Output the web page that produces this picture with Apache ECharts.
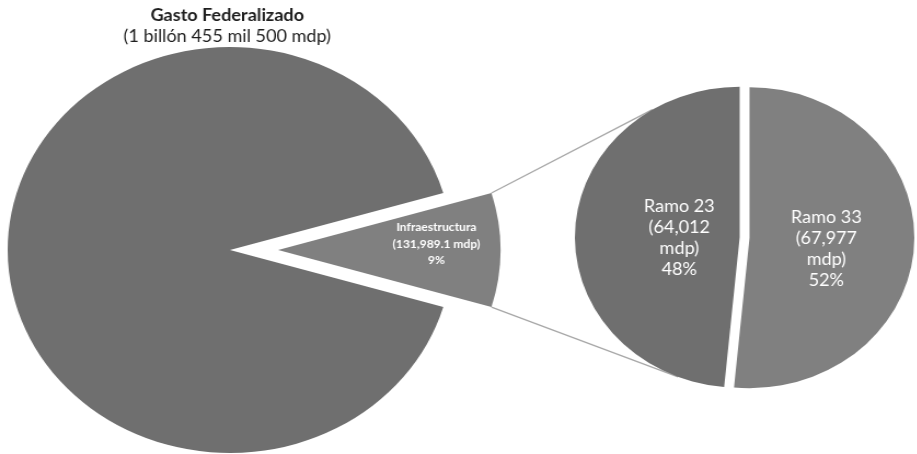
<!DOCTYPE html>
<html>
<head>
<meta charset="utf-8">
<script src="https://cdn.jsdelivr.net/npm/echarts@6/dist/echarts.min.js"></script>
<style>
  html, body { margin: 0; padding: 0; background: #ffffff; overflow: hidden; }
  #wrap { width: 917px; height: 454px; overflow: hidden; }
  /* the chart is laid out narrower and widened on screen */
  #chart { width: 838px; height: 454px; transform: scaleX(1.095); transform-origin: 0 0; }
</style>
</head>
<body>
<div id="wrap"><div id="chart"></div></div>
<script>
// ---- data ----
const titleText = 'Gasto Federalizado';
const subtitleText = '(1 billón 455 mil 500 mdp)';
const mainNames = ['Infraestructura', 'Resto del gasto federalizado'];
const mainValues = [131989.1, 1323510.9];
const subNames = ['Ramo 33', 'Ramo 23'];
const subValues = [67977, 64012];

// ---- layout ----
const FONT = 'Lato, "Open Sans", sans-serif';
const DARK = '#6f6f6f';
const LIGHT = '#808080';
const main = { cx: 210, cy: 250, r: 203, offset: 44 };
const sub = { cx: 680, cy: 237.5, r: 150.5, offset: 4.5 };
const connectorAngles = [122, 248]; // degrees on the secondary pie
const mainLabelShift = { dx: 40, dy: -6 };
const subLabelShift = [{ dx: -8, dy: 8 }, { dx: 23, dy: 5 }];

const mainTotal = mainValues.reduce((a, b) => a + b, 0);
const subTotal = subValues.reduce((a, b) => a + b, 0);
const mainShare = mainValues[0] / mainTotal;
const fmt = (v, d) => v.toLocaleString('en-US', { minimumFractionDigits: d, maximumFractionDigits: d });
const pct = (v, total) => Math.round(v / total * 100);
const rad = d => d * Math.PI / 180;

// connector lines from the exploded slice to the secondary pie
const half = mainShare * Math.PI;
const sliceOx = main.cx + main.offset, sliceOy = main.cy;
const cornerTop = [sliceOx + main.r * Math.cos(half), sliceOy - main.r * Math.sin(half)];
const cornerBot = [sliceOx + main.r * Math.cos(half), sliceOy + main.r * Math.sin(half)];
const s33 = subValues[0] / subTotal, s23 = subValues[1] / subTotal;
const mid23 = rad(90 - 360 * s33 - 180 * s23);
const o23x = sub.cx + sub.offset * Math.cos(mid23), o23y = sub.cy - sub.offset * Math.sin(mid23);
const endPt = a => [o23x + sub.r * Math.cos(rad(a)), o23y - sub.r * Math.sin(rad(a))];
const endTop = endPt(connectorAngles[0]);
const endBot = endPt(connectorAngles[1]);

const chart = echarts.init(document.getElementById('chart'), null, { renderer: 'canvas' });

chart.setOption({
  animation: false,
  backgroundColor: '#ffffff',
  title: {
    text: titleText,
    subtext: subtitleText,
    left: 202.5,
    top: 2,
    textAlign: 'center',
    itemGap: 4,
    textStyle: { fontFamily: FONT, fontSize: 16.5, fontWeight: 'bold', color: '#1e1e1e' },
    subtextStyle: { fontFamily: FONT, fontSize: 16.5, color: '#1e1e1e' }
  },
  graphic: [
    { type: 'line', z: 1, shape: { x1: cornerTop[0], y1: cornerTop[1], x2: endTop[0], y2: endTop[1] },
      style: { stroke: '#a8a8a8', lineWidth: 1.3 } },
    { type: 'line', z: 1, shape: { x1: cornerBot[0], y1: cornerBot[1], x2: endBot[0], y2: endBot[1] },
      style: { stroke: '#a8a8a8', lineWidth: 1.3 } }
  ],
  series: [
    {
      type: 'pie',
      center: [main.cx, main.cy],
      radius: main.r,
      startAngle: mainShare * 180,
      clockwise: true,
      selectedMode: 'single',
      selectedOffset: main.offset,
      avoidLabelOverlap: false,
      emphasis: { disabled: true },
      labelLine: { show: false },
      itemStyle: { borderWidth: 0 },
      label: {
        show: true,
        position: 'inside',
        color: '#ffffff',
        fontFamily: FONT,
        fontSize: 11,
        fontWeight: 'bold',
        lineHeight: 16.5,
        formatter: p => `${p.name}\n(${fmt(p.value, 1)} mdp)\n${pct(p.value, mainTotal)}%`
      },
      labelLayout: () => ({ dx: mainLabelShift.dx, dy: mainLabelShift.dy }),
      data: [
        { name: mainNames[0], value: mainValues[0], selected: true, itemStyle: { color: LIGHT } },
        { name: mainNames[1], value: mainValues[1], itemStyle: { color: DARK }, label: { show: false } }
      ]
    },
    {
      type: 'pie',
      center: [sub.cx, sub.cy],
      radius: sub.r,
      startAngle: 90,
      clockwise: true,
      selectedMode: 'multiple',
      selectedOffset: sub.offset,
      avoidLabelOverlap: false,
      emphasis: { disabled: true },
      labelLine: { show: false },
      itemStyle: { borderWidth: 0 },
      label: {
        show: true,
        position: 'inside',
        color: '#ffffff',
        fontFamily: FONT,
        fontSize: 16.5,
        lineHeight: 21,
        formatter: p => `${p.name}\n(${fmt(p.value, 0)}\nmdp)\n${pct(p.value, subTotal)}%`
      },
      labelLayout: p => ({ dx: subLabelShift[p.dataIndex].dx, dy: subLabelShift[p.dataIndex].dy }),
      data: [
        { name: subNames[0], value: subValues[0], selected: true, itemStyle: { color: LIGHT } },
        { name: subNames[1], value: subValues[1], selected: true, itemStyle: { color: DARK } }
      ]
    }
  ]
});
</script>
</body>
</html>
